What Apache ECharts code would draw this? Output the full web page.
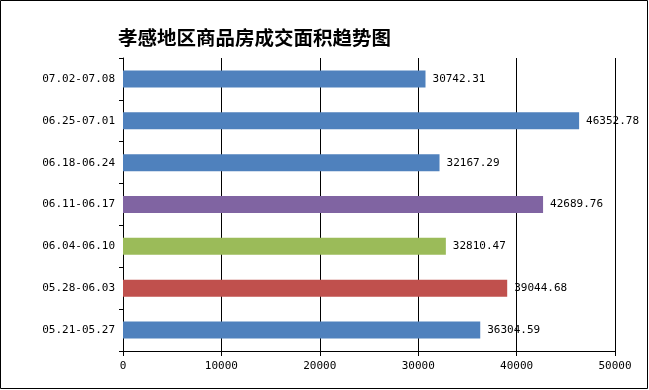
<!DOCTYPE html>
<html><head><meta charset="utf-8">
<script src="https://cdn.jsdelivr.net/npm/echarts@6/dist/echarts.min.js"></script>
<style>html,body{margin:0;padding:0;background:#fff}#c{width:649px;height:390px}</style>
</head><body><div id="c"></div>
<script>
const title = '孝感地区商品房成交面积趋势图';
const categories = ['05.21-05.27','05.28-06.03','06.04-06.10','06.11-06.17','06.18-06.24','06.25-07.01','07.02-07.08'];
const values = [36304.59, 39044.68, 32810.47, 42689.76, 32167.29, 46352.78, 30742.31];
const colors = ['#4F81BD','#C0504D','#9BBB59','#8064A2','#4F81BD','#4F81BD','#4F81BD'];
const xTicks = [0, 10000, 20000, 30000, 40000, 50000];

const chart = echarts.init(document.getElementById('c'));
const mono = 'DejaVu Sans Mono';
chart.setOption({
  animation: false,
  backgroundColor: '#fff',
  title: {
    text: title, left: 113, top: 23,
    textStyle: {fontFamily: 'Noto Sans CJK SC', fontWeight: 'bold', fontSize: 19.5, color: '#000'}
  },
  grid: {left: 123, top: 58, right: 34, bottom: 39, containLabel: false},
  xAxis: {
    type: 'value', min: xTicks[0], max: xTicks[xTicks.length-1], interval: 10000,
    axisLine: {show: true, lineStyle: {color: '#000', width: 1}},
    axisTick: {show: true, length: 5, lineStyle: {color: '#000'}},
    axisLabel: {color: '#000', fontFamily: mono, fontSize: 11, margin: 10, formatter: v => String(v)},
    splitLine: {show: true, lineStyle: {color: '#000', width: 1}}
  },
  yAxis: {
    type: 'category', data: categories,
    axisLine: {show: true, lineStyle: {color: '#000', width: 1}},
    axisTick: {show: true, length: 4, lineStyle: {color: '#000'}},
    axisLabel: {color: '#000', fontFamily: mono, fontSize: 11, margin: 8},
    splitLine: {show: false}
  },
  series: [{
    type: 'bar', barWidth: 17,
    data: values.map((v, i) => ({value: v, itemStyle: {color: colors[i]}})),
    label: {show: true, position: 'right', distance: 7, color: '#000', fontFamily: mono, fontSize: 11,
      formatter: p => p.value.toFixed(2)}
  }],
  graphic: [{
    type: 'rect', shape: {x: 0.5, y: 0.5, width: 647, height: 388},
    style: {fill: 'none', stroke: '#000', lineWidth: 1}, z: 100
  }]
});
</script></body></html>
